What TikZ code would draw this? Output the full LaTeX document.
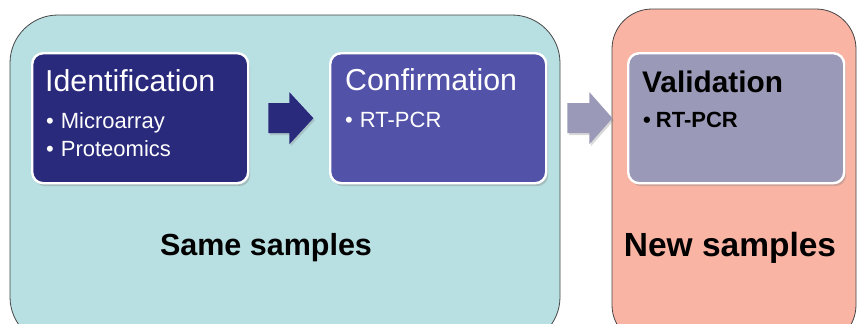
\documentclass[tikz,border=0pt]{standalone}
\usepackage{fontspec}
\setmainfont{Liberation Sans}
\usetikzlibrary{shadows,calc}
\definecolor{tealbg}{RGB}{184,223,226}
\definecolor{salmonbg}{RGB}{250,180,164}
\definecolor{navy}{RGB}{42,42,124}
\definecolor{violet}{RGB}{82,82,168}
\definecolor{lavender}{RGB}{154,154,184}
\definecolor{framegray}{RGB}{70,70,70}
\tikzset{
  stage/.style={draw=framegray, line width=0.8pt, rounded corners=48pt},
  card/.style={draw=white, line width=2.4pt, rounded corners=11pt, anchor=north west,
    minimum width=216pt, minimum height=130pt, inner sep=0pt,
    drop shadow={opacity=0.35, shadow xshift=2pt, shadow yshift=-3pt}},
  heading/.style={anchor=base west, inner sep=0pt, font=\fontsize{30.3}{33}\selectfont},
  item/.style={anchor=base west, inner sep=0pt, font=\fontsize{22}{26}\selectfont},
  caption/.style={anchor=base, inner sep=0pt, font=\bfseries\fontsize{30.5}{34}\selectfont},
  blockarrow/.style={draw=none, drop shadow={opacity=0.3, shadow xshift=1.5pt, shadow yshift=-2pt}}
}
\begin{document}
\begin{tikzpicture}[x=1pt,y=-1pt]
\useasboundingbox (0,0) rectangle (857,324);
\fill[white] (0,0) rectangle (857,324);
% the two sample groups
\draw[stage, fill=tealbg] (10,15) rectangle (560,345);
\draw[stage, fill=salmonbg, rounded corners=40pt] (612,9) rectangle (856,345);
% stage cards
\node[card, fill=navy] (ident) at (31,52) {};
\node[card, fill=violet] (conf) at (329,52) {};
\node[card, fill=lavender] (valid) at (627,52) {};
% card texts
\node[heading, text=white] (identt) at (45,91) {Identification};
\node[item, text=white] (id1) at (46,128) {\textbullet\hspace{7pt}Microarray};
\node[item, text=white] (id2) at (46,156) {\textbullet\hspace{7pt}Proteomics};
\node[heading, text=white] (conft) at (345,90) {Confirmation};
\node[item, text=white] (cf1) at (345,127) {\textbullet\hspace{7pt}RT-PCR};
\node[heading, font=\bfseries\fontsize{29.8}{33}\selectfont] (validt) at (642,92) {Validation};
\node[item, font=\bfseries\fontsize{22}{26}\selectfont] (vl1) at (643,127) {\textbullet\hspace{5pt}RT-PCR};
% block arrows between the cards
\path[blockarrow, fill=navy]
  ($(ident.east)+(19,0)$) coordinate (a1) -- ++(0,-15) -- ++(21,0) -- ++(0,-11)
  -- ++(24,26) -- ++(-24,26) -- ++(0,-11) -- ++(-21,0) -- cycle;
\path[blockarrow, fill=lavender]
  ($(conf.east)+(20,0)$) coordinate (a2) -- ++(0,-15) -- ++(22,0) -- ++(0,-11)
  -- ++(23,26) -- ++(-23,26) -- ++(0,-11) -- ++(-22,0) -- cycle;
% group captions
\node[caption] (same) at (266,255) {Same samples};
\node[caption, font=\bfseries\fontsize{33.5}{37}\selectfont] (new) at (730,256) {New samples};
\end{tikzpicture}
\end{document}
